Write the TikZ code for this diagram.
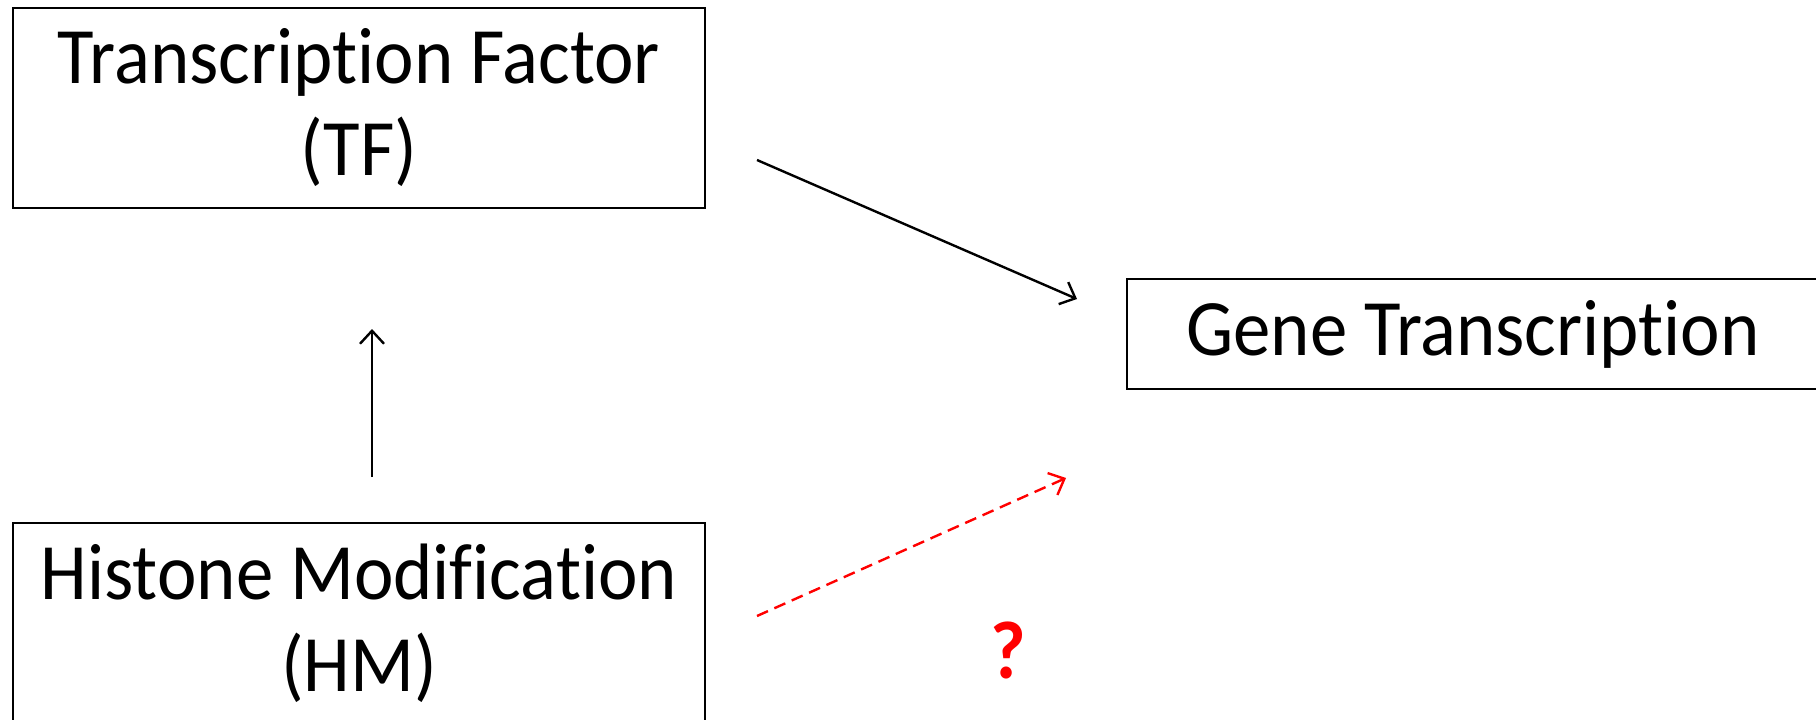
\documentclass[tikz,border=0pt]{standalone}
\usepackage{fontspec}
\setmainfont{Carlito}[FakeStretch=0.935,RawFeature={-liga;-clig}]
\usetikzlibrary{arrows.meta}
\begin{document}
\begin{tikzpicture}[x=1pt,y=-1pt,
  box/.style={draw=black,line width=2.2pt,minimum width=692pt,inner sep=0pt,align=center,
    font=\fontsize{80}{92}\selectfont},
  arr/.style={line width=2.4pt,-{Straight Barb[length=13pt,width=24pt,line width=2.4pt]}},
  redarr/.style={arr,red,dash pattern=on 12pt off 7pt}]
\useasboundingbox (0,0) rectangle (1816,720);
\clip (0,0) rectangle (1816,720);
\fill[white] (0,0) rectangle (1816,720);
\node[box,minimum height=200pt] (tf) at (359,108) {Transcription Factor\\(TF)};
\node[box,minimum height=200pt] (hm) at (359,623) {Histone Modification\\(HM)};
\node[box,minimum height=110pt] (gt) at (1473,334) {Gene Transcription};
\node[text=red,font=\fontsize{82}{88}\selectfont\bfseries] (q) at (1008,650) {?};
\coordinate (tfs) at (757,160);
\coordinate (gte) at (1077,299);
\coordinate (hms) at (372,477);
\coordinate (tfe) at (372,329);
\coordinate (hmd) at (757,616);
\coordinate (gtd) at (1066,478);
\draw[arr] (tfs) -- (gte);
\draw[arr] (hms) -- (tfe);
\draw[redarr] (hmd) -- (gtd);
\end{tikzpicture}
\end{document}
